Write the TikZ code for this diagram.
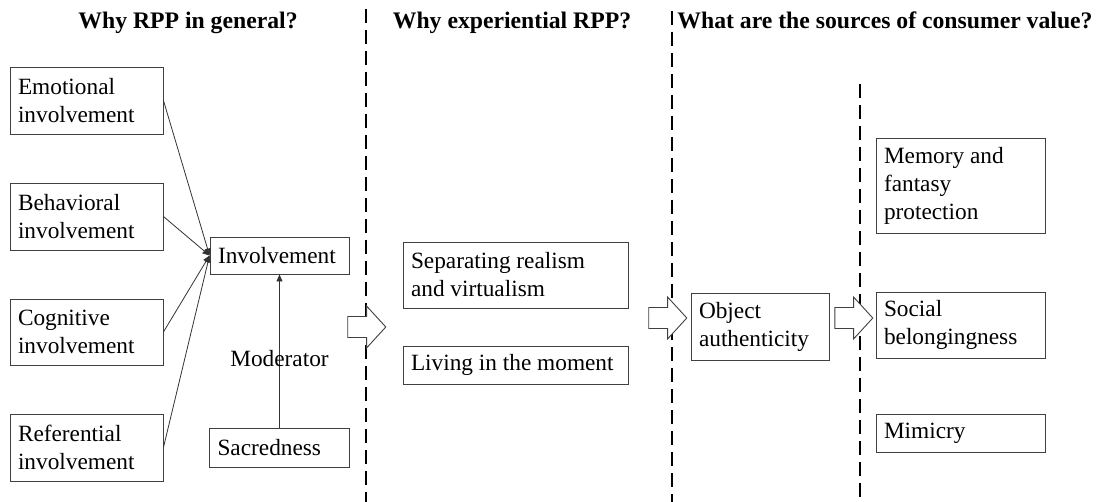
\documentclass[tikz,border=0pt]{standalone}
\usepackage{fontspec}
\setmainfont{Liberation Serif}
\usepackage{tikz}
\usetikzlibrary{calc,arrows.meta,shapes.arrows}

\begin{document}
\begin{tikzpicture}[x=1pt,y=-1pt]
    \tikzset{box/.style={draw=black!75,line width=0.9pt,rectangle,align=flush left,inner xsep=8pt,inner ysep=0pt,text width=#1,font=\fontsize{23.3}{28}\selectfont},
        bigarrow/.style={draw=black!75,line width=0.9pt,fill=white,single arrow,single arrow head extend=10.5pt,single arrow tip angle=95,inner xsep=0pt,inner ysep=10pt,minimum height=38pt},
        title/.style={font=\bfseries\fontsize{23.7}{28}\selectfont,anchor=base},
        divider/.style={line width=2.2pt,dash pattern=on 14pt off 7pt},
        link/.style={draw=black!80,line width=0.8pt,-{Triangle[length=7pt,width=6pt]}}}
    \useasboundingbox (0,0) rectangle (1102,502);

    % headings
    \node[title] (t1) at (188,29) {Why RPP in general?};
    \node[title] (t2) at (512,29) {Why experiential RPP?};
    \node[title] (t3) at (885,29) {What are the sources of consumer value?};

    % dashed dividers
    \coordinate (d1a) at (366,9);
    \coordinate (d1b) at (366,502);
    \coordinate (d2a) at (672,11);
    \coordinate (d2b) at (672,502);
    \coordinate (d3a) at (860,84);
    \coordinate (d3b) at (860,502);
    \draw[divider] (d1a) -- (d1b);
    \draw[divider] (d2a) -- (d2b);
    \draw[divider] (d3a) -- (d3b);

    % first column
    \node[box=137pt,minimum height=67pt] (emo) at (86.5,100.5) {Emotional\\involvement};
    \node[box=137pt,minimum height=67pt] (beh) at ($(emo)+(0,116)$) {Behavioral\\involvement};
    \node[box=137pt,minimum height=66pt] (cog) at ($(beh)+(0,115.5)$) {Cognitive\\involvement};
    \node[box=137pt,minimum height=67pt] (ref) at ($(cog)+(0,115.5)$) {Referential\\involvement};
    \node[box=123pt,minimum height=37pt] (inv) at (279.5,255.5) {Involvement};
    \node[box=124pt,minimum height=39pt] (sac) at (279.5,447.5) {Sacredness};

    \draw[link] (emo.east) -- (inv.west);
    \draw[link] (beh.east) -- (inv.west);
    \draw[link] (cog.east) -- (inv.west);
    \draw[link] (ref.east) -- (inv.west);
    \draw[link] (sac) -- node[pos=0.45,font=\fontsize{23.3}{28}\selectfont] (mod) {Moderator} (inv);

    % second column
    \node[bigarrow] (arr1) at (362,327) {};
    \node[box=209pt,minimum height=66pt] (sep) at (515.5,275) {Separating realism\\and virtualism};
    \node[box=209pt,minimum height=38pt] (liv) at (515.5,365) {Living in the moment};

    % third column
    \node[bigarrow] (arr2) at (663,318) {};
    \node[box=122pt,minimum height=67pt] (obj) at (760,326.5) {Object\\authenticity};
    \node[bigarrow] (arr3) at (849,318) {};
    \node[box=153pt,minimum height=95pt] (mem) at (960.5,185.5) {Memory and\\fantasy\\protection};
    \node[box=153pt,minimum height=66pt] (soc) at (960.5,325) {Social\\belongingness};
    \node[box=153pt,minimum height=38pt] (mim) at (960.5,433) {Mimicry};
\end{tikzpicture}
\end{document}
